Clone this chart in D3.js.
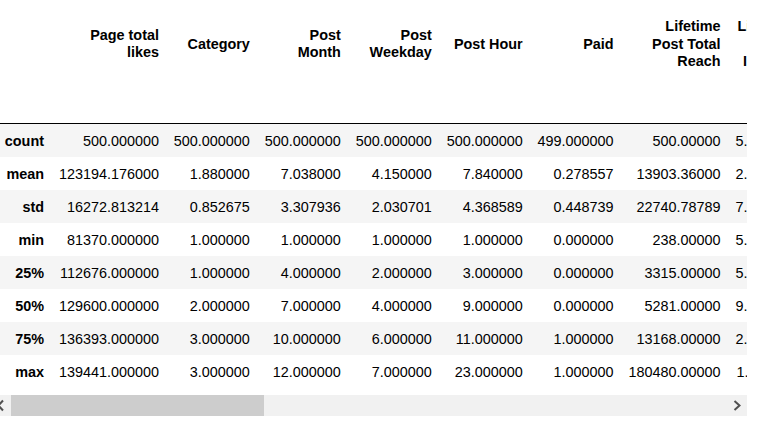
<!DOCTYPE html>
<html>
<head>
<meta charset="utf-8">
<script src="https://cdn.jsdelivr.net/npm/d3@7"></script>
<style>
body { margin: 0; background: #fff; }
text { font-family: "Liberation Sans", Arial, sans-serif; font-size: 14.4px; fill: #000; }
</style>
</head>
<body>
<svg id="chart"></svg>
<script>
// describe() output, one array per column
var rowLabels = ['count', 'mean', 'std', 'min', '25%', '50%', '75%', 'max'];
var headerLines = [
  ['Page total', 'likes'],
  ['Category'],
  ['Post', 'Month'],
  ['Post', 'Weekday'],
  ['Post Hour'],
  ['Paid'],
  ['Lifetime', 'Post Total', 'Reach'],
  ['Lifetime Post', 'Total', 'Impressions']
];
var pageTotalLikes = [500, 123194.176, 16272.813214, 81370, 112676, 129600, 136393, 139441];
var category       = [500, 1.88, 0.852675, 1, 1, 2, 3, 3];
var postMonth      = [500, 7.038, 3.307936, 1, 4, 7, 10, 12];
var postWeekday    = [500, 4.15, 2.030701, 1, 2, 4, 6, 7];
var postHour       = [500, 7.84, 4.368589, 1, 3, 9, 11, 23];
var paid           = [499, 0.278557, 0.448739, 0, 0, 0, 1, 1];
var totalReach     = [500, 13903.36, 22740.78789, 238, 3315, 5281, 13168, 180480];
var totalImpr      = [500, 29585.948, 76803.246, 570, 5694.75, 9051, 22085.5, 1110282];
var columnValues = [pageTotalLikes, category, postMonth, postWeekday, postHour, paid, totalReach, totalImpr];
var columnFormats = ['.6f', '.6f', '.6f', '.6f', '.6f', '.6f', '.5f', '.6e'];

var width = 763, height = 423;
var viewW = 747;          // visible width of the scrolled table
var pad = 7.45;
var indexRight = 44;
var headerBottom = 123, rowH = 33;
var headMid = 43.5, lineH = 17.5;

function fmt(spec) {
  var f = d3.format(spec);
  if (spec.slice(-1) !== 'e') return f;
  return function(v) {
    return f(v).replace(/e([+-])(\d)$/, function(m, s, d) { return 'e' + s + '0' + d; });
  };
}
var formatters = columnFormats.map(fmt);

var svg = d3.select('#chart').attr('width', width).attr('height', height);

// measure text the way a table would size its columns
var probe = svg.append('text').attr('x', -1000).attr('y', -1000);
function textW(s, bold) {
  probe.attr('font-weight', bold ? 'bold' : 'normal').text(s);
  return probe.node().getComputedTextLength();
}

var colW = columnValues.map(function(vals, j) {
  var vw = d3.max(vals, function(v) { return textW(formatters[j](v), false); });
  var hw = d3.max(headerLines[j], function(l) { return textW(l, true); });
  return Math.max(vw, hw) + 2 * pad;
});
probe.remove();

var rights = [];
var edge = indexRight + pad;
colW.forEach(function(w) { edge += w; rights.push(edge - pad); });

var x = d3.scaleOrdinal().domain(d3.range(columnValues.length)).range(rights);
var y = d3.scaleBand().domain(rowLabels)
  .range([headerBottom + 1, headerBottom + 1 + rowLabels.length * rowH]);

svg.append('clipPath').attr('id', 'view')
  .append('rect').attr('x', 0).attr('y', 0).attr('width', viewW).attr('height', height);

var table = svg.append('g').attr('clip-path', 'url(#view)');

// striped rows
table.selectAll('rect.row').data(rowLabels).enter().append('rect')
  .attr('class', 'row')
  .attr('x', 0).attr('width', viewW)
  .attr('y', function(d) { return y(d); })
  .attr('height', y.bandwidth())
  .attr('fill', function(d, i) { return i % 2 === 0 ? '#f5f5f5' : '#fff'; });

// header border
table.append('line')
  .attr('x1', 0).attr('x2', viewW)
  .attr('y1', headerBottom + 0.5).attr('y2', headerBottom + 0.5)
  .attr('stroke', '#000').attr('stroke-width', 1);

// column headers
var heads = table.selectAll('g.head').data(headerLines).enter().append('g').attr('class', 'head');
heads.selectAll('text').data(function(lines, j) {
  return lines.map(function(l, k) { return { t: l, k: k, n: lines.length, j: j }; });
}).enter().append('text')
  .attr('x', function(d) { return x(d.j); })
  .attr('y', function(d) { return headMid - (d.n - 1) * lineH / 2 + d.k * lineH; })
  .attr('dy', '0.35em')
  .attr('text-anchor', 'end')
  .attr('font-weight', 'bold')
  .text(function(d) { return d.t; });

// row labels
table.selectAll('text.idx').data(rowLabels).enter().append('text')
  .attr('class', 'idx')
  .attr('x', indexRight)
  .attr('y', function(d) { return y(d) + y.bandwidth() / 2; })
  .attr('dy', '0.35em')
  .attr('text-anchor', 'end')
  .attr('font-weight', 'bold')
  .text(function(d) { return d; });

// cells
var cols = table.selectAll('g.col').data(columnValues).enter().append('g').attr('class', 'col');
cols.selectAll('text').data(function(vals, j) {
  return vals.map(function(v, i) { return { v: v, i: i, j: j }; });
}).enter().append('text')
  .attr('x', function(d) { return x(d.j); })
  .attr('y', function(d) { return y(rowLabels[d.i]) + y.bandwidth() / 2; })
  .attr('dy', '0.35em')
  .attr('text-anchor', 'end')
  .text(function(d) { return formatters[d.j](d.v); });

// horizontal scrollbar
var sb = svg.append('g');
sb.append('rect').attr('x', 0).attr('y', 395).attr('width', viewW).attr('height', 21).attr('fill', '#f1f1f1');
sb.append('rect').attr('x', 11).attr('y', 395).attr('width', 253).attr('height', 21).attr('fill', '#cdcdcd');
sb.append('path').attr('d', 'M3,400.5 L-1.5,405.5 L3,410.5')
  .attr('fill', 'none').attr('stroke', '#505050').attr('stroke-width', 2);
sb.append('path').attr('d', 'M734.5,401 L739.5,405.5 L734.5,410')
  .attr('fill', 'none').attr('stroke', '#505050').attr('stroke-width', 2);
</script>
</body>
</html>
